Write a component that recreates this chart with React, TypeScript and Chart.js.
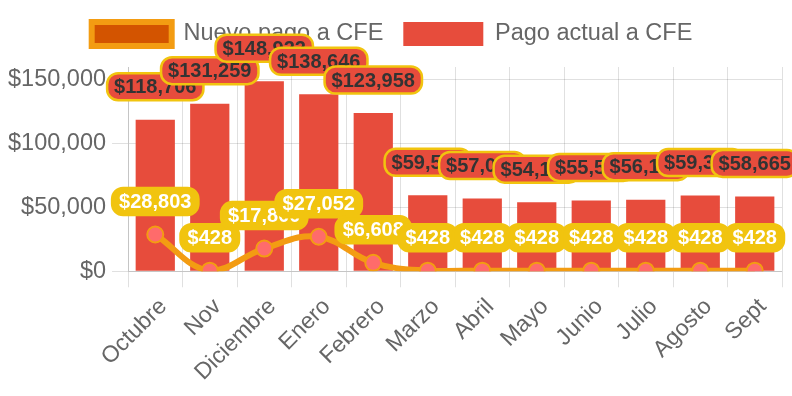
import React, { useEffect, useRef } from 'react';
import { Chart, registerables } from 'chart.js';

Chart.register(...registerables);

const categories = ['Octubre', 'Nov', 'Diciembre', 'Enero', 'Febrero', 'Marzo', 'Abril', 'Mayo', 'Junio', 'Julio', 'Agosto', 'Sept'];
const nuevoPago = [28803, 428, 17800, 27052, 6608, 428, 428, 428, 428, 428, 428, 428];
const pagoActual = [118706, 131259, 148922, 138646, 123958, 59500, 57000, 54100, 55500, 56100, 59300, 58665];
const seriesNames = ['Nuevo pago a CFE', 'Pago actual a CFE'];
const yTicks = [0, 50000, 100000, 150000];
const yMax = 160000;

const FONT = '"Liberation Sans", Arial, Helvetica, sans-serif';

const fmt = (v: number) => '$' + Math.round(v).toString().replace(/\B(?=(\d{3})+(?!\d))/g, ',');

function roundRect(ctx: CanvasRenderingContext2D, x: number, y: number, w: number, h: number, r: number) {
  ctx.beginPath();
  ctx.moveTo(x + r, y);
  ctx.lineTo(x + w - r, y);
  ctx.arcTo(x + w, y, x + w, y + r, r);
  ctx.lineTo(x + w, y + h - r);
  ctx.arcTo(x + w, y + h, x + w - r, y + h, r);
  ctx.lineTo(x + r, y + h);
  ctx.arcTo(x, y + h, x, y + h - r, r);
  ctx.lineTo(x, y + r);
  ctx.arcTo(x, y, x + r, y, r);
  ctx.closePath();
}

const legendGap = {
  id: 'legendGap',
  beforeInit(chart: any) {
    const legend = chart.legend;
    if (!legend) return;
    const origFit = legend.fit;
    legend.fit = function () {
      origFit.call(this);
      this.height += 11;
    };
  },
};

const labelPlugin = {
  id: 'valueLabels',
  afterDatasetsDraw(chart: any) {
    const ctx = chart.ctx as CanvasRenderingContext2D;
    ctx.save();
    ctx.font = 'bold 20px ' + FONT;
    ctx.textAlign = 'center';
    ctx.textBaseline = 'middle';
    const styles = [
      { fill: '#F1C40F', stroke: '#F1C40F', text: '#FFFFFF' },
      { fill: '#E74C3C', stroke: '#F1C40F', text: '#333333' },
    ];
    [0, 1].forEach((di) => {
      const meta = chart.getDatasetMeta(di);
      const data = chart.data.datasets[di].data as number[];
      const st = styles[di];
      meta.data.forEach((el: any, i: number) => {
        const txt = fmt(data[i]);
        const w = ctx.measureText(txt).width + 14;
        const h = 27;
        const cx = el.x;
        const cy = el.y - 33;
        roundRect(ctx, cx - w / 2, cy - h / 2, w, h, 11);
        ctx.fillStyle = st.fill;
        ctx.fill();
        ctx.lineWidth = 2.5;
        ctx.strokeStyle = st.stroke;
        ctx.stroke();
        ctx.fillStyle = st.text;
        ctx.fillText(txt, cx, cy + 1);
      });
    });
    ctx.restore();
  },
};

export default function App() {
  const ref = useRef<HTMLCanvasElement>(null);
  useEffect(() => {
    if (!ref.current) return;
    const gridColor = 'rgba(0,0,0,0.12)';
    const chart = new Chart(ref.current, {
      type: 'bar',
      data: {
        labels: categories,
        datasets: [
          {
            type: 'line',
            label: seriesNames[0],
            data: nuevoPago,
            borderColor: '#F39C12',
            backgroundColor: '#D35400',
            borderWidth: 6,
            tension: 0.4,
            fill: false,
            pointRadius: 8,
            pointBorderWidth: 2,
            pointBackgroundColor: '#FF6B6B',
            pointBorderColor: '#F39C12',
          } as any,
          {
            type: 'bar',
            label: seriesNames[1],
            data: pagoActual,
            backgroundColor: '#E74C3C',
            borderWidth: 0,
          },
        ],
      },
      options: {
        responsive: false,
        animation: false,
        layout: { padding: { left: 2, right: 10, top: 2, bottom: 4 } },
        plugins: {
          tooltip: { enabled: false },
          legend: {
            position: 'top',
            labels: {
              boxWidth: 80,
              boxHeight: 24,
              padding: 20,
              color: '#666',
              font: { size: 23.5, family: FONT },
            },
          },
        },
        scales: {
          x: {
            grid: { color: gridColor, tickLength: 16 },
            border: { color: gridColor },
            ticks: {
              color: '#666',
              font: { size: 23, family: FONT },
              minRotation: 45,
              maxRotation: 45,
              autoSkip: false,
              labelOffset: 8,
              padding: 6,
            },
          },
          y: {
            min: 0,
            max: yMax,
            grid: { color: gridColor, tickLength: 16 },
            border: { color: gridColor },
            afterBuildTicks: (axis: any) => {
              axis.ticks = yTicks.map((v) => ({ value: v }));
            },
            ticks: {
              color: '#666',
              padding: 6,
              font: { size: 23.5, family: FONT },
              callback: (v: any) => fmt(Number(v)),
            },
          },
        },
      },
      plugins: [legendGap, labelPlugin],
    });
    return () => chart.destroy();
  }, []);
  return (
    <div style={{ position: 'absolute', left: 0, top: 0, width: 792, height: 396 }}>
      <canvas ref={ref} width={792} height={396} style={{ width: 792, height: 396 }} />
    </div>
  );
}
